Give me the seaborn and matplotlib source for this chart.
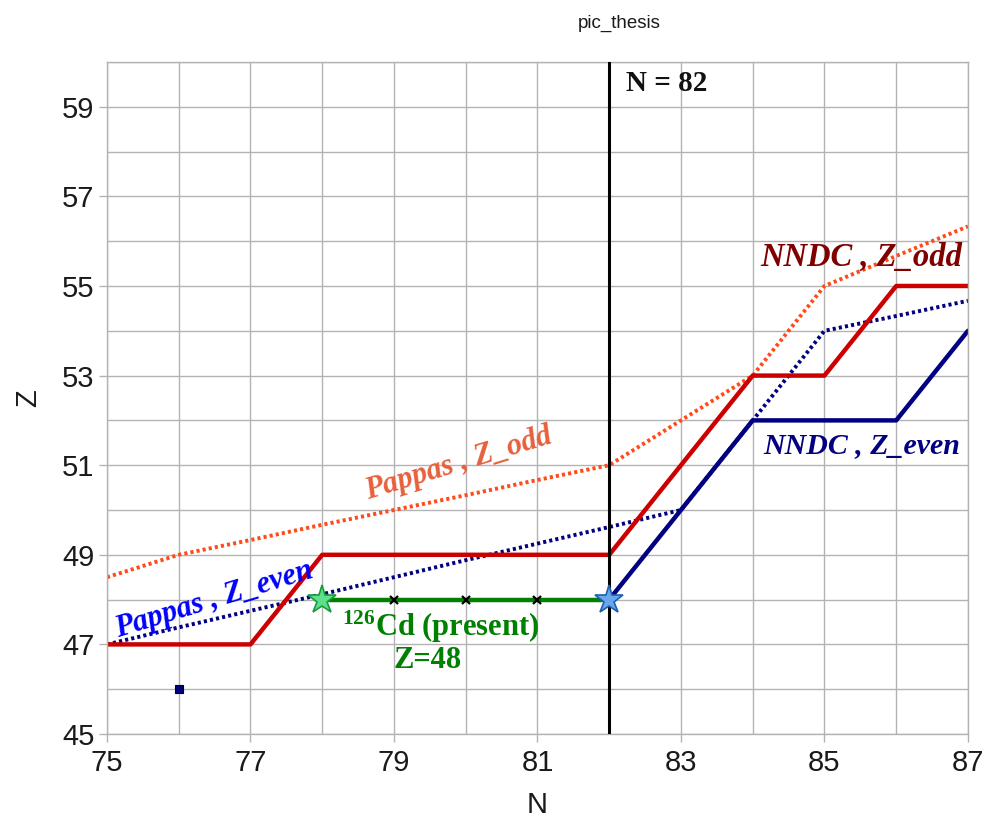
import numpy as np
import pandas as pd
import matplotlib
matplotlib.use("Agg")
import matplotlib.pyplot as plt
import seaborn as sns

# ==========================================================
# DATA
# ==========================================================

N_ALL = [75, 76, 77, 78, 79, 80, 81, 82, 83, 84, 85, 86, 87]

nndc_odd_n = [75, 77, 78, 82, 84, 85, 86, 87]
nndc_odd_z = [47, 47, 49, 49, 53, 53, 55, 55]

nndc_even_n = [82, 84, 86, 87]
nndc_even_z = [48, 52, 52, 54]

pappas_odd_z = [48.5, 49.0, 49.33, 49.67, 50.0, 50.33, 50.67, 51.0, 52.0, 53.0, 55.0, 55.67, 56.33]
pappas_even_z = [47.0, 47.38, 47.75, 48.12, 48.5, 48.88, 49.25, 49.62, 50.0, 52.0, 54.0, 54.33, 54.67]

cd_n = [78, 79, 80, 81, 82]
cd_z = [48, 48, 48, 48, 48]

extra_n = [76]
extra_z = [46]

# ==========================================================
# PLOT
# ==========================================================

sns.set_theme(style="whitegrid")
plt.rcParams['font.family'] = ['Liberation Sans', 'DejaVu Sans']
plt.rcParams['mathtext.fontset'] = 'custom'
plt.rcParams['mathtext.bf'] = 'Liberation Serif:bold'
plt.rcParams['mathtext.rm'] = 'Liberation Serif'

fig = plt.figure(figsize=(9.85, 8.24), dpi=100)
ax = fig.add_axes([0.1086, 0.1092, 0.8741, 0.8156])

grid_c = "#b3b3b3"

sns.lineplot(x=N_ALL, y=pappas_odd_z, ax=ax, color="#ff4a1a", lw=2.8,
             linestyle=(0, (0.8, 0.8)), estimator=None, sort=False)
sns.lineplot(x=N_ALL, y=pappas_even_z, ax=ax, color="#000080", lw=2.8,
             linestyle=(0, (0.8, 0.8)), estimator=None, sort=False)
sns.lineplot(x=nndc_odd_n, y=nndc_odd_z, ax=ax, color="#cc0000", lw=3.2,
             estimator=None, sort=False)
sns.lineplot(x=nndc_even_n, y=nndc_even_z, ax=ax, color="#000080", lw=3.2,
             estimator=None, sort=False)

# Cd-126 line
sns.lineplot(x=cd_n, y=cd_z, ax=ax, color="#008000", lw=3.2,
             estimator=None, sort=False)
ax.plot(cd_n[1:-1], cd_z[1:-1], ls="none", marker="x", ms=6, mew=1.6, color="black")
ax.plot(cd_n[0], cd_z[0], ls="none", marker="*", ms=21, mfc="#5ee08a", mec="#1a9a40", mew=1.2)
ax.plot(cd_n[-1], cd_z[-1], ls="none", marker="*", ms=21, mfc="#6aa6ec", mec="#1d5fb0", mew=1.2,
        zorder=6)

ax.plot(extra_n, extra_z, ls="none", marker="s", ms=6, mfc="#000080", mec="black", mew=0.8)

# N = 82 shell closure
ax.axvline(82, color="black", lw=2.2, zorder=5)

# ==========================================================
# AXES
# ==========================================================

ax.set_xlim(75, 87)
ax.set_ylim(45, 60)
ax.set_xticks(np.arange(75, 88, 2))
ax.set_xticks(np.arange(75, 88, 1), minor=True)
ax.set_yticks(np.arange(45, 60, 2))
ax.set_yticks(np.arange(45, 61, 1), minor=True)
ax.grid(True, which="both", color=grid_c, lw=1.0)
ax.tick_params(which="major", length=6, width=1, color=grid_c, labelsize=21,
               labelcolor="#1a1a1a", direction="out", bottom=True, left=True, pad=3)
ax.tick_params(axis="x", which="major", pad=5)
ax.tick_params(which="minor", length=0)
for s in ax.spines.values():
    s.set_color(grid_c)
    s.set_linewidth(1.0)

ax.set_xlabel("N", fontsize=21, color="#1a1a1a", labelpad=10)
ax.set_ylabel("Z", fontsize=21, color="#1a1a1a", labelpad=14)
fig.text(0.629, 0.972, "pic_thesis", ha="center", va="center", fontsize=13.5, color="#1a1a1a")

# ==========================================================
# ANNOTATIONS
# ==========================================================

serif = ['Liberation Serif', 'DejaVu Serif']

ax.text(82.8, 59.52, "N = 82", family=serif, weight="bold", fontsize=21,
        color="#111111", ha="center", va="center")
ax.text(85.52, 55.65, "NNDC , Z_odd", family=serif, weight="bold", style="italic",
        fontsize=23.5, color="#800000", ha="center", va="center")
ax.text(85.52, 51.44, "NNDC , Z_even", family=serif, weight="bold", style="italic",
        fontsize=21.5, color="#000080", ha="center", va="center")
ax.text(79.9, 51.04, "Pappas , Z_odd", family=serif, weight="bold", style="italic",
        fontsize=22, color="#e8603c", ha="center", va="center", rotation=17)
ax.text(76.5, 48.0, "Pappas , Z_even", family=serif, weight="bold", style="italic",
        fontsize=22, color="#0000ff", ha="center", va="center", rotation=17)
ax.text(79.65, 47.39, r"$\mathbf{^{126}}$Cd (present)", family=serif, weight="bold",
        fontsize=22, color="#008000", ha="center", va="center")
ax.text(79.47, 46.63, "Z=48", family=serif, weight="bold",
        fontsize=22, color="#008000", ha="center", va="center")

fig.savefig("out.png", dpi=100)
